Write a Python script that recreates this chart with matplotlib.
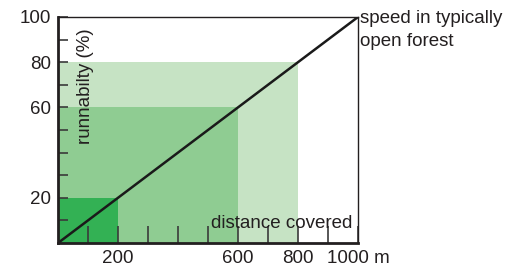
import matplotlib
matplotlib.use("Agg")
import matplotlib.pyplot as plt

# nested areas: (distance covered in m, runnability in %)
area_dist = [800, 600, 200]
area_run = [80, 60, 20]
area_colors = ["#c6e3c4", "#8fcc92", "#33b154"]

# speed line for typically open forest
line_x = [0, 1000]
line_y = [0, 100]

xticks_major = [200, 600, 800, 1000]
xticklabels = ["200", "600", "800", "1000 m"]
yticks_major = [20, 60, 80, 100]

plt.rcParams["font.family"] = ["Liberation Sans", "DejaVu Sans"]
txtcol = "#231f20"
fs = 13.5

fig = plt.figure(figsize=(5.15, 2.69), dpi=100)
ax = fig.add_axes([58 / 515, 1 - 243 / 269, 300 / 515, 226 / 269])
ax.set_xlim(0, 1000)
ax.set_ylim(0, 100)

for d, r, c in zip(area_dist, area_run, area_colors):
    ax.fill_between([0, d], 0, r, color=c, linewidth=0, zorder=1)

ax.plot(line_x, line_y, color="#1a1a1a", linewidth=1.8, zorder=3)

ax.spines["left"].set_linewidth(2.0)
ax.spines["bottom"].set_linewidth(2.0)
ax.spines["top"].set_linewidth(1.0)
ax.spines["right"].set_linewidth(1.0)
for s in ax.spines.values():
    s.set_color("#231f20")
    s.set_zorder(4)

ax.set_xticks(xticks_major)
ax.set_xticklabels(xticklabels)
ax.set_xticks(range(100, 1001, 100), minor=True)
ax.set_yticks(yticks_major)
ax.set_yticks(range(10, 100, 10), minor=True)
ax.tick_params(which="both", direction="in", color="#3a3a3a", width=1.2,
               labelsize=fs, labelcolor=txtcol)
ax.tick_params(axis="x", which="both", length=12, pad=5)
ax.tick_params(axis="y", which="both", length=7, pad=5)

ax.text(90, 95, "runnabilty (%)", rotation=90, ha="center", va="top",
        fontsize=fs, color=txtcol, zorder=5)
ax.text(982, 5, "distance covered", ha="right", va="bottom",
        fontsize=fs, color=txtcol, zorder=5)
ax.text(1006, 103, "speed in typically\nopen forest", ha="left", va="top",
        fontsize=fs, color=txtcol, linespacing=1.45, clip_on=False)

fig.savefig("out.png", dpi=100)
